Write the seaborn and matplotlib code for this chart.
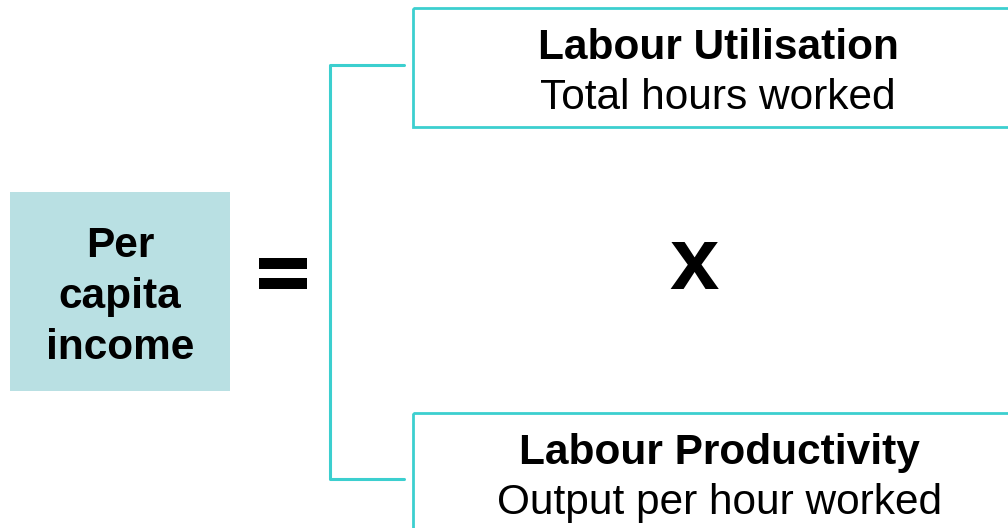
import seaborn as sns
import pandas as pd
from matplotlib import pyplot as plt
from matplotlib.patches import Rectangle

#%% diagram content
left_label = ['Per', 'capita', 'income']
top_title = 'Labour Utilisation'
top_sub = 'Total hours worked'
bottom_title = 'Labour Productivity'
bottom_sub = 'Output per hour worked'
operator = 'x'

teal = '#3ccfcf'
fill = '#b9e0e3'

#%% figure in pixel coords
sns.set_theme(style='white')
plt.rcParams['font.family'] = ['Liberation Sans', 'DejaVu Sans']
plt.rcParams['text.color'] = 'black'

fig = plt.figure(figsize=(10.08, 5.28), dpi=100)
ax = fig.add_axes([0, 0, 1, 1])

# left filled box
ax.add_patch(Rectangle((10, 192), 220, 199, facecolor=fill, edgecolor='none'))
for i, word in enumerate(left_label):
    ax.text(120, 246 + i * 51, word, ha='center', va='center',
            fontsize=30.5, fontweight='bold', color='black')

# equals sign
ax.add_patch(Rectangle((259, 258), 48, 11, facecolor='black', edgecolor='none'))
ax.add_patch(Rectangle((259, 278), 48, 11, facecolor='black', edgecolor='none'))

# bracket
bracket = pd.DataFrame({'x': [404, 330, 330, 404], 'y': [65, 65, 479, 479]})
sns.lineplot(data=bracket, x='x', y='y', sort=False, estimator=None,
             color=teal, linewidth=2.2, ax=ax)
ax.set_xlim(0, 1008)
ax.set_ylim(528, 0)
ax.axis('off')

# outline boxes
ax.add_patch(Rectangle((413, 8), 640, 119, facecolor='none', edgecolor=teal, linewidth=2))
ax.add_patch(Rectangle((413, 413), 640, 200, facecolor='none', edgecolor=teal, linewidth=2))

ax.text(718, 48, top_title, ha='center', va='center', fontsize=30.5, fontweight='bold', color='black')
ax.text(718, 98, top_sub, ha='center', va='center', fontsize=30.5, color='black')
ax.text(719, 453, bottom_title, ha='center', va='center', fontsize=30.5, fontweight='bold', color='black')
ax.text(720, 503, bottom_sub, ha='center', va='center', fontsize=30.5, color='black')

ax.text(694, 266, operator, ha='center', va='center', fontsize=64, fontweight='bold', color='black')

fig.savefig('out.png', dpi=100)
